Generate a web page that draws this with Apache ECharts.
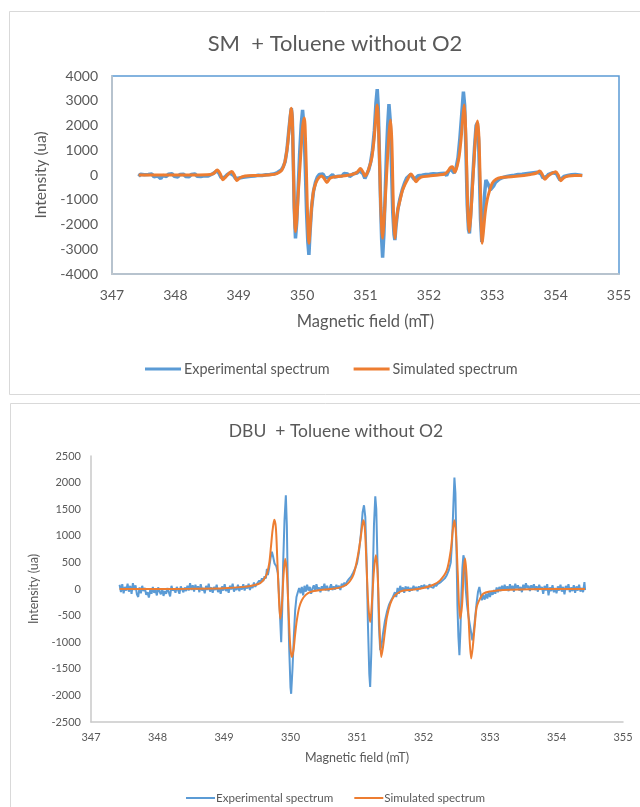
<!DOCTYPE html>
<html>
<head>
<meta charset="utf-8">
<script src="https://cdn.jsdelivr.net/npm/echarts@6/dist/echarts.min.js"></script>
<style>
html,body{margin:0;padding:0;background:#fff;}
#c{width:640px;height:807px;}
</style>
</head>
<body>
<div id="c"></div>
<script>
// ---- Data (magnetic field in mT, intensity in ua) ----
const titles = ['SM  + Toluene without O2', 'DBU  + Toluene without O2'];
const seriesNames = ['Experimental spectrum', 'Simulated spectrum'];

// Top panel: simulated spectrum
const simTop = [
[347.42,0],[347.8,0],[348.2,0],[348.5,10],[348.6,60],[348.66,200],[348.71,40],[348.75,-190],[348.8,-60],[348.85,80],[348.89,140],[348.93,0],[348.97,-220],[349.02,-110],[349.1,-40],[349.3,-20],[349.5,10],[349.6,60],[349.68,200],[349.73,550],[349.77,1200],[349.8,2000],[349.83,2700],[349.845,2300],[349.86,600],[349.875,-1200],[349.895,-2290],[349.915,-1800],[349.94,-700],[349.965,300],[349.99,1300],[350.01,2000],[350.035,2300],[350.055,1300],[350.075,-600],[350.09,-2000],[350.107,-2760],[350.125,-2200],[350.15,-1300],[350.18,-650],[350.22,-300],[350.26,-120],[350.31,-40],[350.35,-150],[350.39,-300],[350.44,-130],[350.5,-80],[350.6,-50],[350.7,-20],[350.8,30],[350.87,120],[350.92,260],[350.96,120],[350.99,-40],[351.03,100],[351.07,400],[351.1,700],[351.13,1300],[351.16,2200],[351.185,2830],[351.2,2400],[351.22,700],[351.24,-1200],[351.27,-2560],[351.29,-2000],[351.32,-600],[351.35,800],[351.375,1800],[351.395,2220],[351.415,1400],[351.43,-200],[351.445,-1800],[351.464,-2560],[351.48,-2000],[351.51,-1400],[351.54,-1080],[351.58,-650],[351.62,-400],[351.67,-150],[351.716,40],[351.76,-100],[351.795,-270],[351.84,-150],[351.88,-80],[352.0,-40],[352.15,0],[352.25,40],[352.3,150],[352.34,300],[352.37,330],[352.41,110],[352.45,400],[352.48,800],[352.51,1500],[352.535,2300],[352.557,2830],[352.575,2200],[352.595,500],[352.615,-1500],[352.636,-2290],[352.66,-1700],[352.69,-400],[352.72,900],[352.745,1800],[352.768,2180],[352.79,1500],[352.81,-300],[352.825,-1900],[352.841,-2760],[352.86,-2300],[352.89,-1500],[352.92,-1000],[352.95,-700],[353.0,-330],[353.06,-170],[353.14,-100],[353.3,-70],[353.5,-20],[353.6,20],[353.7,80],[353.75,160],[353.79,20],[353.83,-170],[353.88,-40],[353.95,80],[354.0,135],[354.04,0],[354.08,-230],[354.13,-110],[354.2,-40],[354.3,-20],[354.42,-20]
];

// Top panel: experimental spectrum
const expTop = [
[347.42,-60],[347.45,30],[347.48,-40],[347.51,10],[347.54,-50],[347.57,20],[347.60,-30],[347.63,40],[347.66,-70],[347.69,0],[347.72,-40],[347.75,30],[347.77,-150],[347.80,-20],[347.83,20],[347.86,-60],[347.89,30],[347.92,-30],[347.95,50],[347.98,-50],[348.01,10],[348.04,-80],[348.07,20],[348.10,-40],[348.13,30],[348.16,-60],[348.19,-10],[348.22,-70],[348.25,20],[348.28,-30],[348.31,40],[348.34,-50],[348.37,0],[348.40,-60],[348.43,20],[348.46,-30],[348.49,30],[348.52,-40],[348.55,10],
[348.59,50],[348.62,90],[348.66,170],[348.69,60],[348.72,-100],[348.75,-180],[348.78,-90],[348.82,20],[348.86,80],[348.89,110],[348.92,-20],[348.95,-150],[348.98,-190],[349.01,-120],[349.04,-60],
[349.07,-90],[349.10,-20],[349.13,-70],[349.16,10],[349.19,-50],[349.22,20],[349.25,-40],[349.28,30],[349.31,-10],[349.34,40],[349.37,-20],[349.40,50],[349.43,10],[349.46,60],[349.49,20],[349.52,80],[349.55,40],[349.58,120],[349.61,100],[349.64,180],
[349.67,200],[349.70,330],[349.73,520],[349.76,1000],[349.79,1800],[349.81,2300],[349.83,2700],[349.845,2300],[349.86,700],[349.875,-1300],[349.895,-2560],[349.915,-1900],[349.94,-400],[349.96,800],[349.985,2000],[350.007,2630],[350.03,1900],[350.05,300],[350.07,-1500],[350.09,-2700],[350.107,-3230],[350.125,-2300],[350.15,-1300],[350.18,-650],[350.21,-300],[350.24,-80],[350.27,20],[350.3,-60],[350.33,40],[350.36,-100],[350.39,-20],[350.42,-110],[350.45,-40],[350.48,20],[350.51,-80],[350.54,-10],[350.57,-50],[350.60,30],[350.63,-40],[350.66,60],[350.69,-20],[350.72,40],[350.75,-60],[350.78,10],[350.81,50],[350.84,-20],[350.87,80],[350.9,180],[350.93,230],[350.96,60],[350.99,-140],[351.02,30],[351.05,200],[351.08,500],[351.11,1000],[351.14,1800],[351.165,2900],[351.185,3470],[351.2,2800],[351.22,800],[351.24,-1300],[351.255,-2600],[351.27,-3340],[351.29,-2400],[351.31,-800],[351.33,800],[351.35,2000],[351.37,2860],[351.39,2200],[351.41,400],[351.43,-1500],[351.45,-2400],[351.464,-2630],[351.48,-2100],[351.51,-1400],[351.54,-1000],[351.58,-600],[351.62,-300],[351.65,-120],[351.68,-40],[351.71,20],[351.74,-60],[351.77,-180],[351.8,-120],[351.83,-30],[351.86,-90],[351.89,-10],[351.92,-60],[351.95,20],[351.98,-40],[352.01,30],[352.04,-20],[352.07,50],[352.10,-10],[352.13,40],[352.16,-30],[352.19,60],[352.22,10],[352.25,70],[352.28,-20],[352.31,150],[352.34,250],[352.37,230],[352.40,80],[352.43,300],[352.46,700],[352.49,1500],[352.52,2500],[352.545,3370],[352.565,2800],[352.585,1000],[352.605,-1200],[352.625,-2200],[352.64,-2360],[352.66,-1600],[352.69,-200],[352.72,1100],[352.745,2000],[352.765,2100],[352.785,1400],[352.8,-200],[352.815,-1800],[352.835,-2700],[352.855,-2000],[352.875,-900],[352.9,-200],[352.915,-135],[352.94,-400],[352.97,-600],[352.99,-670],[353.02,-450],[353.05,-300],[353.08,-240],[353.11,-170],[353.14,-200],[353.17,-100],[353.2,-140],[353.23,-60],[353.26,-100],[353.29,-30],[353.32,-80],[353.35,-10],[353.38,-60],[353.41,20],[353.44,-40],[353.47,30],[353.5,-20],[353.53,50],[353.56,0],[353.59,70],[353.62,20],[353.65,90],[353.68,40],[353.71,110],[353.74,150],[353.77,40],[353.8,-120],[353.83,-150],[353.86,-60],[353.89,30],[353.92,-20],[353.95,90],[353.98,140],[354.01,60],[354.04,-80],[354.07,-200],[354.1,-150],[354.13,-60],[354.16,-100],[354.19,-20],[354.22,-70],[354.25,10],[354.28,-50],[354.31,20],[354.34,-40],[354.37,0],[354.40,-60],[354.42,-20]
];

// Bottom panel: simulated spectrum
const simBot = [
[347.43,0],[348.0,0],[348.5,5],[349.0,15],[349.3,40],[349.45,70],[349.545,110],[349.6,180],[349.645,290],[349.68,480],[349.706,790],[349.73,1100],[349.756,1300],[349.78,1150],[349.8,600],[349.82,0],[349.846,-557],[349.87,-300],[349.895,250],[349.92,570],[349.945,300],[349.97,-400],[349.995,-1050],[350.02,-1280],[350.045,-1150],[350.07,-850],[350.095,-590],[350.13,-350],[350.17,-210],[350.23,-110],[350.3,-55],[350.45,-20],[350.6,0],[350.75,30],[350.85,90],[350.9,160],[350.95,280],[351.0,540],[351.05,915],[351.08,1200],[351.098,1291],[351.12,1100],[351.145,400],[351.17,-300],[351.198,-620],[351.225,-250],[351.255,350],[351.284,633],[351.31,300],[351.335,-600],[351.364,-1278],[351.39,-1100],[351.42,-800],[351.45,-526],[351.5,-280],[351.55,-150],[351.62,-70],[351.7,-30],[351.85,-10],[352.0,20],[352.15,80],[352.25,163],[352.35,350],[352.41,727],[352.44,1100],[352.465,1291],[352.49,1000],[352.515,300],[352.55,-557],[352.58,-300],[352.605,350],[352.626,571],[352.65,200],[352.68,-600],[352.716,-1308],[352.74,-1100],[352.77,-700],[352.8,-338],[352.85,-180],[352.9,-87],[353.0,-45],[353.1,-30],[353.3,-15],[353.6,-5],[354.0,0],[354.43,0]
];

// Bottom panel: experimental spectrum
const expBot = [
[347.43,80],[347.45,-60],[347.47,90],[347.49,-80],[347.51,40],[347.53,-30],[347.55,100],[347.57,-50],[347.59,60],[347.61,-90],[347.63,110],[347.65,-20],[347.67,70],[347.69,-100],[347.71,-150],[347.73,30],[347.75,-80],[347.77,60],[347.79,-40],[347.81,20],[347.83,-110],[347.85,-60],[347.87,-160],[347.89,-20],[347.91,-90],[347.93,40],[347.95,-70],[347.97,-20],[347.99,-120],[348.01,30],[348.03,-50],[348.05,-100],[348.07,10],[348.09,-130],[348.11,-40],[348.13,-90],[348.15,20],[348.17,-60],[348.19,-140],[348.21,60],[348.23,-30],[348.25,10],[348.27,-70],[348.29,40],[348.31,-20],[348.33,-90],[348.35,50],[348.37,-10],[348.39,-60],[348.41,30],[348.43,-40],[348.45,60],[348.47,-30],[348.49,110],[348.51,-20],[348.53,70],[348.55,-50],[348.57,80],[348.59,-10],[348.61,50],[348.63,-60],[348.65,90],[348.67,-30],[348.69,20],[348.71,-80],[348.73,60],[348.75,-20],[348.77,100],[348.79,-50],[348.81,30],[348.83,-70],[348.85,40],[348.87,-20],[348.89,80],[348.91,-60],[348.93,10],[348.95,-90],[348.97,50],[348.99,-30],[349.01,90],[349.03,-40],[349.05,20],[349.07,-70],[349.09,60],[349.11,-10],[349.13,100],[349.15,-50],[349.17,30],[349.19,-20],[349.21,80],[349.23,-40],[349.25,50],[349.27,-10],[349.29,90],[349.31,-30],[349.33,60],[349.35,10],[349.37,100],[349.39,-20],[349.41,70],[349.43,20],[349.45,120],[349.47,40],[349.49,90],[349.51,60],[349.53,160],[349.55,120],[349.57,200],[349.59,150],[349.61,240],[349.63,200],[349.645,380],[349.66,260],[349.68,400],[349.70,580],[349.72,700],[349.74,600],[349.76,480],[349.786,430],[349.81,300],[349.835,-300],[349.86,-1000],[349.875,-400],[349.89,500],[349.91,1300],[349.93,1760],[349.945,1200],[349.96,0],[349.98,-1100],[350.0,-1850],[350.01,-1970],[350.03,-1500],[350.05,-900],[350.07,-400],[350.09,-150],[350.11,-60],[350.13,20],[350.15,-80],[350.17,40],[350.19,-120],[350.21,60],[350.23,-50],[350.25,80],[350.27,-30],[350.29,40],[350.31,-90],[350.33,10],[350.35,70],[350.37,-40],[350.39,90],[350.41,-20],[350.43,30],[350.45,-60],[350.47,50],[350.49,-10],[350.51,100],[350.53,-30],[350.55,60],[350.57,-40],[350.59,20],[350.61,90],[350.63,-20],[350.65,50],[350.67,-10],[350.69,80],[350.71,10],[350.73,60],[350.75,-20],[350.77,100],[350.79,40],[350.81,120],[350.83,60],[350.85,140],[350.88,190],[350.91,230],[350.94,300],[350.97,380],[351.0,480],[351.03,700],[351.06,1050],[351.085,1450],[351.105,1573],[351.125,1350],[351.145,500],[351.165,-700],[351.185,-1600],[351.198,-1840],[351.215,-1200],[351.235,100],[351.255,1200],[351.275,1742],[351.29,1500],[351.31,400],[351.33,-700],[351.349,-1150],[351.37,-1050],[351.39,-850],[351.42,-600],[351.45,-430],[351.48,-300],[351.51,-220],[351.54,-150],[351.57,-60],[351.59,-150],[351.61,20],[351.63,-90],[351.65,60],[351.67,-40],[351.69,30],[351.71,-70],[351.73,50],[351.75,-20],[351.77,40],[351.79,-50],[351.81,20],[351.83,-30],[351.85,60],[351.87,-10],[351.89,40],[351.91,-40],[351.93,50],[351.95,0],[351.97,70],[351.99,10],[352.01,80],[352.03,20],[352.05,60],[352.07,0],[352.09,90],[352.11,40],[352.13,70],[352.15,20],[352.17,100],[352.19,50],[352.21,90],[352.23,60],[352.26,130],[352.29,160],[352.32,200],[352.35,260],[352.38,350],[352.41,500],[352.43,900],[352.45,1600],[352.465,2093],[352.48,1800],[352.495,800],[352.51,-300],[352.525,-900],[352.54,-1246],[352.555,-800],[352.57,-100],[352.585,400],[352.6,633],[352.615,550],[352.635,0],[352.655,-300],[352.675,-500],[352.7,-700],[352.72,-850],[352.735,-964],[352.755,-800],[352.775,-550],[352.8,-250],[352.82,-50],[352.84,38],[352.86,-100],[352.876,-212],[352.9,-120],[352.92,-200],[352.94,-90],[352.96,-180],[352.98,-60],[353.0,-150],[353.02,-40],[353.04,-110],[353.06,-20],[353.08,-90],[353.1,30],[353.12,-60],[353.14,40],[353.16,-40],[353.18,60],[353.2,-30],[353.22,80],[353.24,-20],[353.26,50],[353.28,-40],[353.3,90],[353.32,0],[353.34,60],[353.36,-50],[353.38,100],[353.4,10],[353.42,70],[353.44,-30],[353.46,40],[353.48,-60],[353.5,80],[353.52,-10],[353.54,110],[353.56,20],[353.58,60],[353.6,-40],[353.62,70],[353.64,10],[353.66,90],[353.68,-20],[353.7,50],[353.72,-50],[353.74,80],[353.76,-10],[353.78,40],[353.8,-90],[353.82,60],[353.84,-30],[353.86,90],[353.88,-120],[353.9,30],[353.92,-40],[353.94,70],[353.96,-60],[353.98,20],[354.0,-80],[354.02,50],[354.04,-30],[354.06,80],[354.08,-50],[354.1,40],[354.12,-100],[354.14,60],[354.16,-20],[354.18,90],[354.2,-60],[354.22,30],[354.24,-40],[354.26,70],[354.28,-70],[354.3,50],[354.32,-30],[354.34,80],[354.36,-50],[354.38,20],[354.4,-60],[354.42,130],[354.43,-20]
];

// ---- Styling ----
const FONT = 'Lato, "Open Sans", sans-serif';
const TXT = '#595959';
const BLUE = '#5b9bd5';
const ORANGE = '#ed7d31';
const GRID_LINE = '#c9c9c9';

const chart = echarts.init(document.getElementById('c'), null, {renderer: 'canvas'});
const plain = v => String(v);

function xAxisCfg(gridIndex, fs, nameFs, nameGap, labelMargin) {
  return {
    type: 'value', gridIndex, min: 347, max: 355, interval: 1,
    name: 'Magnetic field (mT)', nameLocation: 'middle', nameGap,
    nameTextStyle: {color: TXT, fontSize: nameFs, fontFamily: FONT},
    axisLine: {show: true, onZero: false, lineStyle: {color: GRID_LINE, width: 1.5}},
    axisTick: {show: false},
    splitLine: {show: false},
    axisLabel: {color: TXT, fontSize: fs, fontFamily: FONT, margin: labelMargin, formatter: plain}
  };
}
function yAxisCfg(gridIndex, min, max, interval, fs, nameFs, nameGap, labelMargin) {
  return {
    type: 'value', gridIndex, min, max, interval,
    name: 'Intensity (ua)', nameLocation: 'middle', nameGap,
    nameTextStyle: {color: TXT, fontSize: nameFs, fontFamily: FONT},
    axisLine: {show: true, onZero: false, lineStyle: {color: GRID_LINE, width: 1.5}},
    axisTick: {show: false},
    splitLine: {show: false},
    axisLabel: {color: TXT, fontSize: fs, fontFamily: FONT, margin: labelMargin, formatter: plain}
  };
}

const option = {
  animation: false,
  backgroundColor: '#ffffff',
  graphic: [
    {type: 'rect', silent: true, z: -10, shape: {x: 9.5, y: 11.5, width: 640, height: 383}, style: {fill: 'none', stroke: '#d9d9d9', lineWidth: 1}},
    {type: 'rect', silent: true, z: -10, shape: {x: 10.5, y: 403.5, width: 640, height: 420}, style: {fill: 'none', stroke: '#d9d9d9', lineWidth: 1}}
  ],
  title: [
    {text: titles[0], left: 330, top: 28, textAlign: 'center', textStyle: {color: TXT, fontSize: 22, fontWeight: 'normal', fontFamily: FONT}},
    {text: titles[1], left: 331, top: 417, textAlign: 'center', textStyle: {color: TXT, fontSize: 17.5, fontWeight: 'normal', fontFamily: FONT}}
  ],
  legend: [
    {left: 140, top: 357, itemWidth: 36, itemHeight: 3, itemGap: 24, icon: 'rect', selectedMode: false,
     textStyle: {color: TXT, fontSize: 14.4, fontFamily: FONT, padding: [0, 0, 0, -2]},
     data: seriesNames},
    {left: 181, top: 787, itemWidth: 29, itemHeight: 2, itemGap: 21, icon: 'rect', selectedMode: false,
     textStyle: {color: TXT, fontSize: 11.6, fontFamily: FONT, padding: [0, 0, 0, -4]},
     data: seriesNames}
  ],
  grid: [
    {left: 112, right: 21, top: 76, bottom: 533, show: true, borderColor: BLUE, borderWidth: 1.5, backgroundColor: 'transparent'},
    {left: 91, right: 17, top: 456, bottom: 85, show: false}
  ],
  xAxis: [
    xAxisCfg(0, 14, 16.5, 39, 14),
    xAxisCfg(1, 11, 12.5, 29, 10)
  ],
  yAxis: [
    yAxisCfg(0, -4000, 4000, 1000, 14, 15.5, 58, 14),
    yAxisCfg(1, -2500, 2500, 500, 11, 12.5, 45, 10)
  ],
  series: [
    {name: seriesNames[0], type: 'line', xAxisIndex: 0, yAxisIndex: 0, data: expTop, showSymbol: false,
     lineStyle: {color: BLUE, width: 3.5}, itemStyle: {color: BLUE}, z: 2},
    {name: seriesNames[1], type: 'line', xAxisIndex: 0, yAxisIndex: 0, data: simTop, showSymbol: false, smooth: 0.3,
     lineStyle: {color: ORANGE, width: 3}, itemStyle: {color: ORANGE}, z: 3},
    {name: seriesNames[0], type: 'line', xAxisIndex: 1, yAxisIndex: 1, data: expBot, showSymbol: false,
     lineStyle: {color: BLUE, width: 2}, itemStyle: {color: BLUE}, z: 2},
    {name: seriesNames[1], type: 'line', xAxisIndex: 1, yAxisIndex: 1, data: simBot, showSymbol: false, smooth: 0.3,
     lineStyle: {color: ORANGE, width: 2}, itemStyle: {color: ORANGE}, z: 3}
  ]
};
chart.setOption(option);
</script>
</body>
</html>
